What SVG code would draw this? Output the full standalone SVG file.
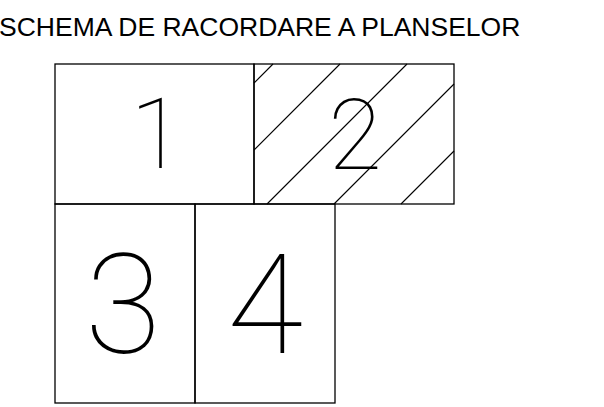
<svg xmlns="http://www.w3.org/2000/svg" width="604" height="407" viewBox="0 0 604 407">
<style>
.box{fill:none;stroke:#000;stroke-width:1.3}
.hatch{stroke:#000;stroke-width:1.1;fill:none}
.title{font-family:"Liberation Sans",Arial,sans-serif;font-size:26.5px;fill:#000}
.dig{font-family:Roboto,"Noto Sans",sans-serif;font-weight:100;fill:#000;text-anchor:middle}
</style>
<rect width="604" height="407" fill="#fff"/>
<text class="title" x="-1" y="36">SCHEMA DE RACORDARE A PLANSELOR</text>
<g id="sheet1">
<rect class="box" x="55" y="64" width="199" height="140"/>
<text class="dig" x="157" y="168" font-size="98">1</text>
</g>
<g id="sheet2">
<rect class="box" x="254" y="64" width="200" height="140"/>
<g class="hatch">
<line x1="254" y1="83" x2="273" y2="64"/>
<line x1="254" y1="150" x2="340" y2="64"/>
<line x1="267" y1="204" x2="407" y2="64"/>
<line x1="334" y1="204" x2="454" y2="84"/>
<line x1="401" y1="204" x2="454" y2="151"/>
</g>
<text class="dig" x="355" y="169" font-size="98">2</text>
</g>
<g id="sheet3">
<rect class="box" x="55" y="204" width="140" height="199"/>
<text class="dig" x="123" y="353" font-size="139">3</text>
</g>
<g id="sheet4">
<rect class="box" x="195" y="204" width="140" height="199"/>
<text class="dig" x="265" y="353" font-size="139">4</text>
</g>
<g id="connectors"/>
</svg>
